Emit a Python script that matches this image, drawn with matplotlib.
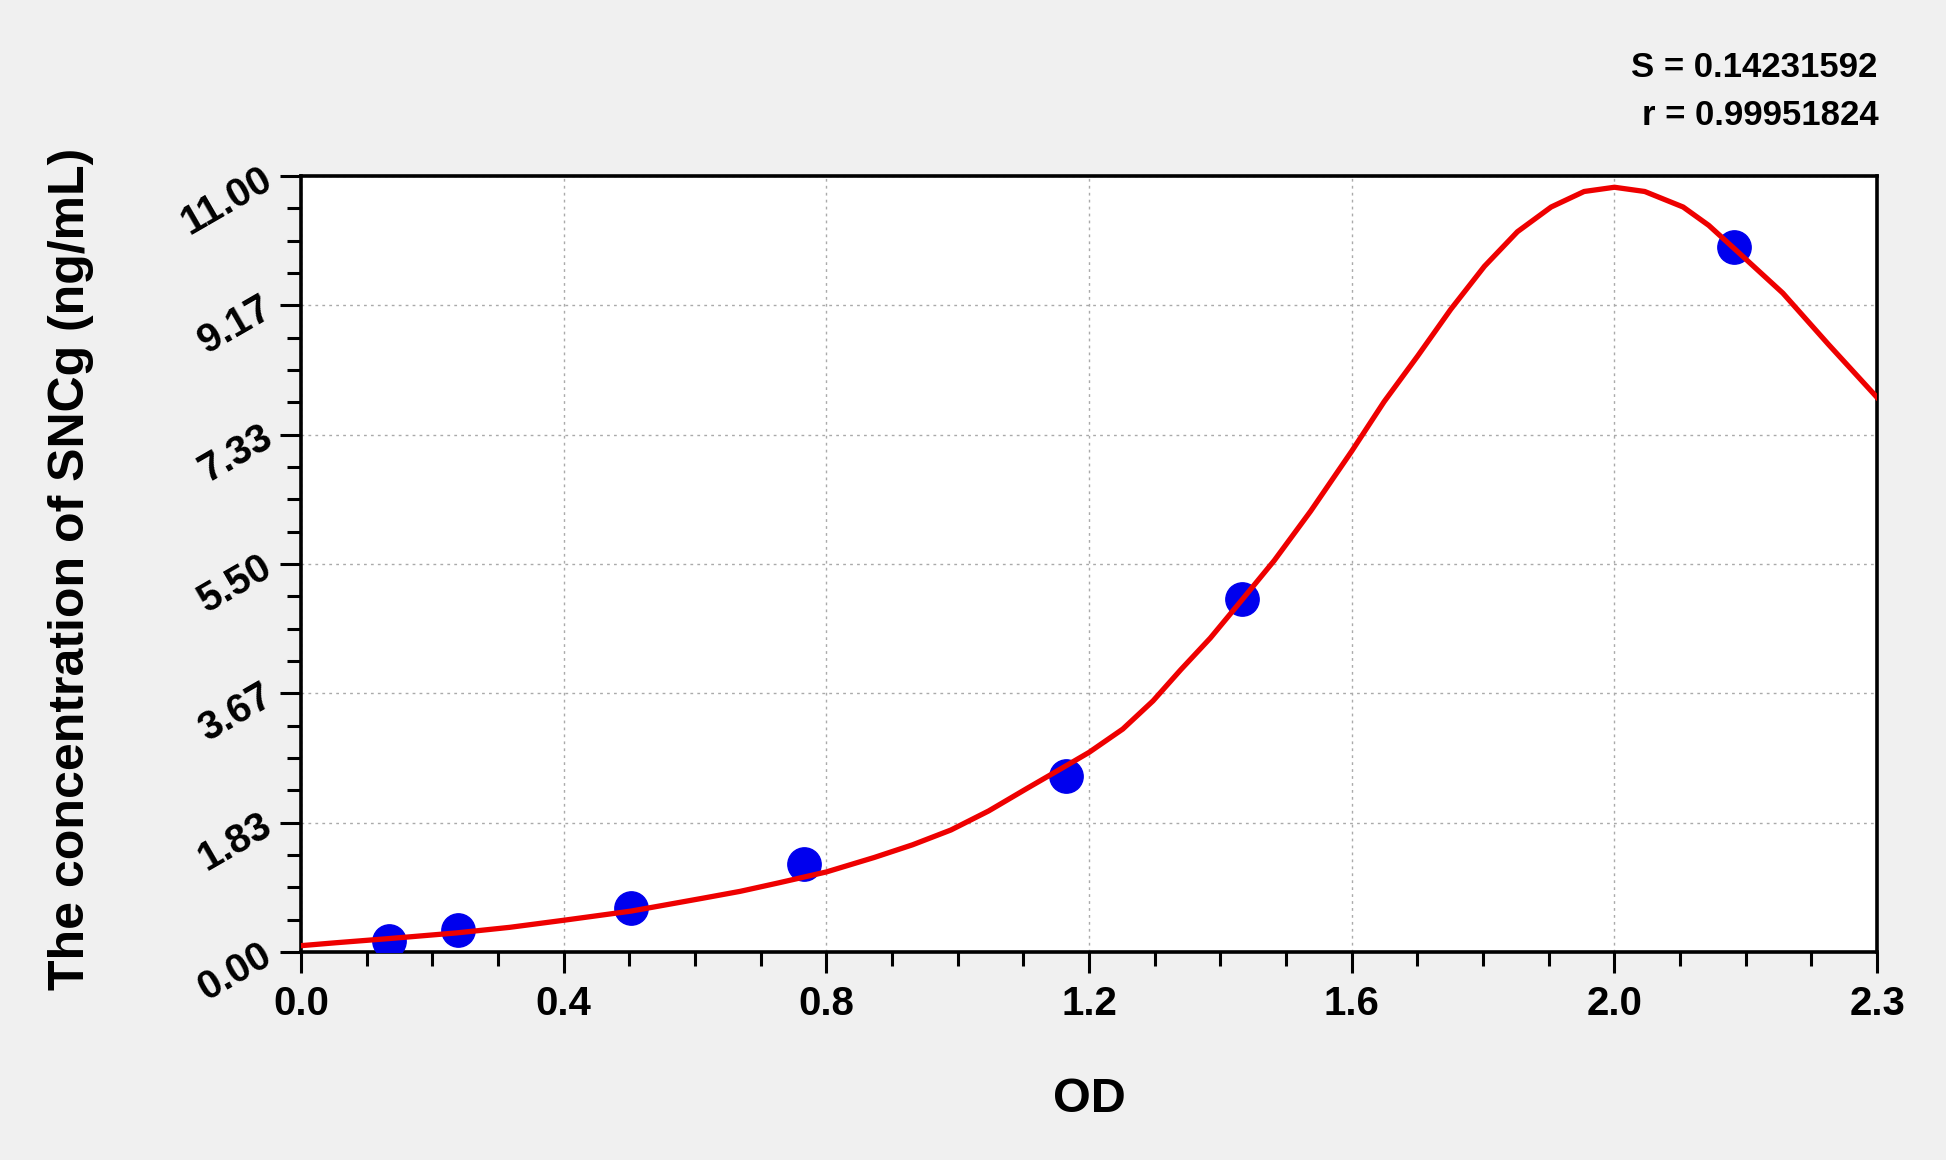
import matplotlib.pyplot as plt
from matplotlib.ticker import AutoMinorLocator
import numpy as np

# standards (OD vs concentration)
od = [0.131, 0.233, 0.490, 0.747, 1.135, 1.397, 2.128]
conc = [0.156, 0.312, 0.625, 1.25, 2.5, 5.0, 10.0]

# fitted curve
fit_od = [0.00, 0.05, 0.13, 0.23, 0.31, 0.39, 0.49, 0.595, 0.652, 0.709, 0.78,
          0.851, 0.908, 0.965, 1.021, 1.078, 1.135, 1.17, 1.22, 1.265, 1.306,
          1.35, 1.396, 1.445, 1.499, 1.56, 1.608, 1.658, 1.707, 1.757, 1.806,
          1.856, 1.905, 1.95, 1.995, 2.052, 2.09, 2.128, 2.20, 2.268, 2.34]
fit_conc = [0.09, 0.13, 0.19, 0.27, 0.35, 0.45, 0.58, 0.76, 0.86, 0.98, 1.135,
            1.34, 1.52, 1.73, 2.00, 2.32, 2.635, 2.83, 3.16, 3.56, 4.00,
            4.45, 4.98, 5.55, 6.25, 7.10, 7.80, 8.45, 9.11, 9.72, 10.21,
            10.56, 10.78, 10.84, 10.78, 10.56, 10.30, 9.97, 9.34, 8.61, 7.86]

x_max = 2.34
y_max = 11.0
x_labels = ["0.0", "0.4", "0.8", "1.2", "1.6", "2.0", "2.3"]
y_labels = ["0.00", "1.83", "3.67", "5.50", "7.33", "9.17", "11.00"]
stat_s = "S = 0.14231592"
stat_r = "r = 0.99951824"

plt.rcParams['font.family'] = ['Liberation Sans', 'DejaVu Sans']
plt.rcParams['font.weight'] = 'bold'

fig = plt.figure(figsize=(19.46, 11.6), dpi=100, facecolor='#f0f0f0')
ax = fig.add_axes([0.1547, 0.1793, 0.8099, 0.669])
ax.set_facecolor('white')

ax.plot(od, conc, 'o', color='#0000ee', ms=24, zorder=3)
ax.plot(fit_od, fit_conc, color='#ee0000', lw=3.8, zorder=4,
        solid_joinstyle='round')

ax.set_xlim(0, x_max)
ax.set_ylim(0, y_max)
ax.set_xticks(np.linspace(0, x_max, len(x_labels)))
ax.set_xticklabels(x_labels, fontsize=29, fontweight='bold')
ax.set_yticks(np.linspace(0, y_max, len(y_labels)))
ax.set_yticklabels(y_labels, fontsize=29, fontweight='bold', rotation=30,
                   ha='right', va='center', rotation_mode='anchor')
ax.xaxis.set_minor_locator(AutoMinorLocator(4))
ax.yaxis.set_minor_locator(AutoMinorLocator(4))
ax.tick_params(which='major', length=15, width=2.2, direction='out', color='black')
ax.tick_params(axis='x', which='major', pad=9)
ax.tick_params(axis='y', which='major', pad=8)
ax.tick_params(which='minor', length=10, width=2.2, direction='out')
ax.grid(True, which='major', linestyle=(0, (2, 3)), color='#aaaaaa', lw=1)
for sp in ax.spines.values():
    sp.set_linewidth(2.6)

fig.text(71 / 1946, 0.5095, "The concentration of SNCg (ng/mL)", rotation=90,
         ha='center', va='center', fontsize=36, fontweight='bold')
fig.text(1089 / 1946, 1 - 1100 / 1160, "OD", ha='center', va='center',
         fontsize=35, fontweight='bold')
fig.text(1877 / 1946, 1 - 77 / 1160, stat_s, ha='right', va='baseline',
         fontsize=25, fontweight='bold')
fig.text(1879 / 1946, 1 - 125 / 1160, stat_r, ha='right', va='baseline',
         fontsize=25, fontweight='bold')

fig.savefig("out.png", dpi=100, facecolor=fig.get_facecolor())
